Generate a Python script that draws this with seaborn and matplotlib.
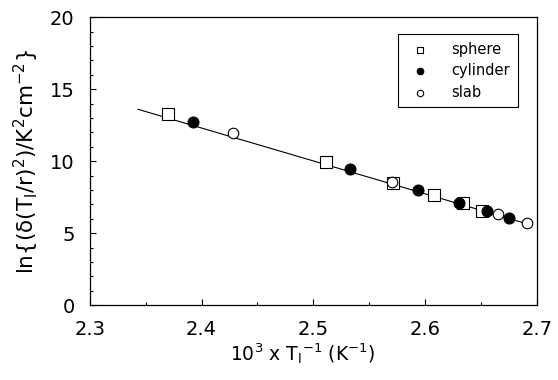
import matplotlib
matplotlib.use('Agg')
import matplotlib.pyplot as plt
from matplotlib.ticker import MultipleLocator
import seaborn as sns
import pandas as pd

# data
sphere_x = [2.370, 2.511, 2.571, 2.608, 2.634, 2.651]
sphere_y = [13.26, 9.95, 8.49, 7.66, 7.06, 6.55]
cylinder_x = [2.392, 2.533, 2.594, 2.630, 2.655, 2.675]
cylinder_y = [12.71, 9.42, 7.99, 7.10, 6.55, 6.06]
slab_x = [2.428, 2.570, 2.665, 2.691]
slab_y = [11.92, 8.56, 6.32, 5.67]
fit_x = [2.343, 2.695]
fit_y = [13.60, 5.56]

sns.set_style('ticks')
plt.rcParams['font.family'] = ['DejaVu Sans']
plt.rcParams['mathtext.default'] = 'regular'
plt.rcParams['text.color'] = 'black'
plt.rcParams['axes.labelcolor'] = 'black'
plt.rcParams['xtick.color'] = 'black'
plt.rcParams['ytick.color'] = 'black'

fig = plt.figure(figsize=(5.58, 3.80), dpi=100)
ax = fig.add_axes([0.161, 0.197, 0.801, 0.758])

sns.lineplot(x=fit_x, y=fit_y, color='black', linewidth=0.8, ax=ax)

groups = [
    ('sphere', sphere_x, sphere_y, 's', 'white', 64),
    ('cylinder', cylinder_x, cylinder_y, 'o', 'black', 62),
    ('slab', slab_x, slab_y, 'o', 'white', 58),
]
for name, xs, ys, mk, fc, sz in groups:
    df = pd.DataFrame({'x': xs, 'y': ys})
    sns.scatterplot(data=df, x='x', y='y', marker=mk, s=sz, color=fc,
                    edgecolor='black', linewidth=0.8, label=name, ax=ax, zorder=3)

ax.set_xlim(2.3, 2.7)
ax.set_ylim(0, 20)
ax.xaxis.set_major_locator(MultipleLocator(0.1))
ax.xaxis.set_minor_locator(MultipleLocator(0.05))
ax.yaxis.set_major_locator(MultipleLocator(5))
ax.yaxis.set_minor_locator(MultipleLocator(1))
ax.tick_params(which='both', direction='in', labelsize=14, width=0.8,
               colors='black')
ax.tick_params(which='major', length=4)
ax.tick_params(which='minor', length=2.5)
ax.tick_params(axis='x', pad=11)
ax.tick_params(axis='y', pad=11)
for s in ax.spines.values():
    s.set_color('black')
    s.set_linewidth(0.9)

ax.set_xlabel(r'10$^3$ x T$_l$$^{-1}$ (K$^{-1}$)', fontsize=13.5, color='black')
ax.set_ylabel(r'ln{(δ(T$_l$/r)$^2$)/K$^2$cm$^{-2}$}', fontsize=15.5,
              labelpad=6, color='black')
ax.xaxis.set_label_coords(0.475, -0.125)

leg = ax.legend(loc='upper right', bbox_to_anchor=(0.957, 0.94), fontsize=10.5,
                frameon=True, fancybox=False, edgecolor='black', framealpha=1,
                markerscale=0.6, handletextpad=1.2, labelspacing=0.45,
                borderpad=0.5, borderaxespad=0)
leg.get_frame().set_linewidth(0.8)
for t in leg.get_texts():
    t.set_color('black')

fig.savefig('out.png', dpi=100)
